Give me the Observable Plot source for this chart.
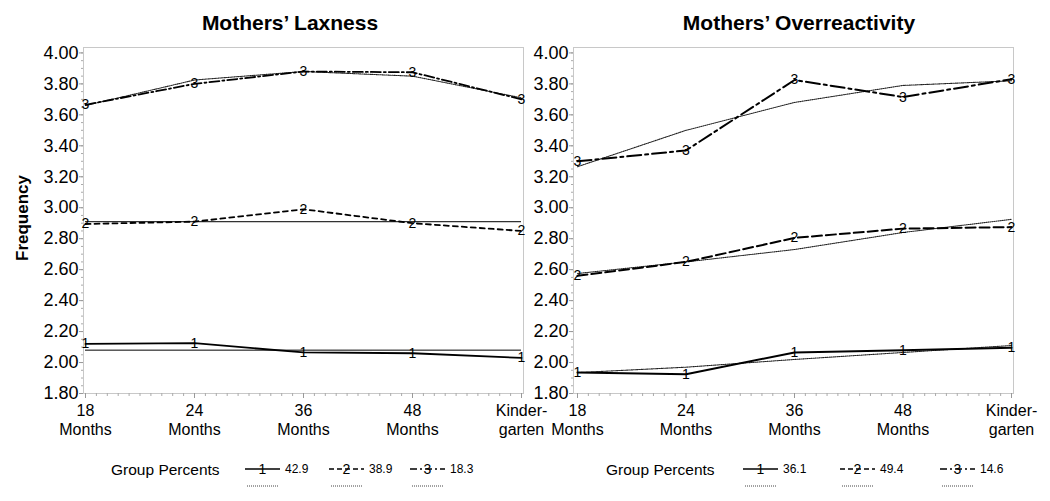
<!DOCTYPE html>
<html><head><meta charset="utf-8">
<script src="https://cdn.jsdelivr.net/npm/d3@7"></script>
<script src="https://cdn.jsdelivr.net/npm/@observablehq/plot@0.6"></script>
<style>
html,body{margin:0;background:#fff;overflow:hidden;}
#wrap{position:relative;width:1050px;height:501px;font-family:"Liberation Sans",Arial,sans-serif;}
#wrap svg{position:absolute;top:0;overflow:visible;background:transparent;max-width:none;}
</style></head><body><div id="wrap"></div>
<script>
// ---- data ----
const waves = ["18\nMonths", "24\nMonths", "36\nMonths", "48\nMonths", "Kinder-\ngarten"];
const groups = ["1", "2", "3"];
const yTicks = [1.8, 2.0, 2.2, 2.4, 2.6, 2.8, 3.0, 3.2, 3.4, 3.6, 3.8, 4.0];

// Mothers' Laxness (observed group means and fitted trajectories)
const laxG1 = [2.12, 2.125, 2.065, 2.06, 2.03];
const laxG2 = [2.895, 2.91, 2.99, 2.90, 2.85];
const laxG3 = [3.665, 3.80, 3.88, 3.875, 3.70];
const laxFit1 = [2.08, 2.08, 2.08, 2.08, 2.08];
const laxFit2 = [2.91, 2.91, 2.91, 2.91, 2.91];
const laxFit3 = [3.66, 3.825, 3.88, 3.85, 3.71];
const laxPercents = ["42.9", "38.9", "18.3"];

// Mothers' Overreactivity
const ovrG1 = [1.935, 1.925, 2.065, 2.08, 2.095];
const ovrG2 = [2.56, 2.65, 2.805, 2.865, 2.875];
const ovrG3 = [3.30, 3.37, 3.825, 3.715, 3.83];
const ovrFit1 = [1.935, 1.97, 2.02, 2.065, 2.11];
const ovrFit2 = [2.575, 2.65, 2.73, 2.84, 2.925];
const ovrFit3 = [3.265, 3.50, 3.68, 3.79, 3.82];
const ovrPercents = ["36.1", "49.4", "14.6"];

// ---- helpers ----
function toRows(series) {
  const rows = [];
  series.forEach((vals, gi) => vals.forEach((v, i) => rows.push({wave: i, value: v, group: groups[gi]})));
  return rows;
}
const xMinor = d3.range(0, 40).map(d => d / 10).filter(d => d % 1 !== 0);
const yMinor = d3.range(36, 81).map(d => d / 20);

function panel({obs, fit, width, marginLeft, marginRight, insetLeft, insetRight, dash2, dash3, lw}) {
  const rows = toRows(obs);
  const fitRows = toRows(fit);
  const styles = {"1": null, "2": dash2, "3": dash3};
  const lineMarks = groups.map(g => Plot.line(rows.filter(r => r.group === g), {
    x: "wave", y: "value", stroke: "black", strokeWidth: lw, strokeDasharray: styles[g]
  }));
  return Plot.plot({
    width, height: 445, marginTop: 47, marginBottom: 52, marginLeft, marginRight,
    style: {background: "transparent", overflow: "visible", fontFamily: "Liberation Sans, Arial, sans-serif"},
    x: {type: "linear", domain: [0, 4], insetLeft, insetRight, axis: null},
    y: {domain: [1.8, 4.035], axis: null},
    marks: [
      Plot.frame({stroke: "#c8c8c8"}),
      Plot.axisY({ticks: yMinor, tickSize: 2, tickFormat: () => "", stroke: "#aaa", label: null}),
      Plot.axisY({ticks: yTicks, tickSize: 4, tickPadding: 1, tickFormat: d => d.toFixed(2), fontSize: 18, stroke: "#999", fill: "black", label: null}),
      Plot.axisX({ticks: xMinor, tickSize: 3, tickFormat: () => "", stroke: "#aaa", label: null}),
      Plot.axisX({ticks: [0, 1, 2, 3, 4], tickSize: 5, tickPadding: 4, tickFormat: i => waves[i], fontSize: 16, lineHeight: 1.2, stroke: "#999", fill: "black", label: null}),
      Plot.line(fitRows, {x: "wave", y: "value", z: "group", stroke: "#222", strokeWidth: 1.1, strokeDasharray: "1,1"}),
      ...lineMarks,
      Plot.text(rows, {x: "wave", y: "value", text: "group", fontSize: 14, fill: "black"})
    ]
  });
}

const wrap = document.getElementById("wrap");
const left = panel({obs: [laxG1, laxG2, laxG3], fit: [laxFit1, laxFit2, laxFit3], width: 525,
  marginLeft: 83, marginRight: 2, insetLeft: 2, insetRight: 2, dash2: "5,4", dash3: "10,3,2,3", lw: 1.8});
left.style.left = "0px";
wrap.appendChild(left);
const right = panel({obs: [ovrG1, ovrG2, ovrG3], fit: [ovrFit1, ovrFit2, ovrFit3], width: 525,
  marginLeft: 48, marginRight: 37, insetLeft: 4, insetRight: 2, dash2: "10,4", dash3: "14,4,3,4", lw: 2});
right.style.left = "525px";
wrap.appendChild(right);

// ---- overlay: titles, y label, legends ----
const ov = d3.select(wrap).append("svg").attr("width", 1050).attr("height", 501)
  .style("left", "0px").style("pointer-events", "none")
  .attr("font-family", "Liberation Sans, Arial, sans-serif");
ov.append("text").attr("x", 290).attr("y", 30).attr("text-anchor", "middle")
  .attr("font-size", 21).attr("font-weight", "bold").text("Mothers’ Laxness");
ov.append("text").attr("x", 799).attr("y", 30).attr("text-anchor", "middle")
  .attr("font-size", 21).attr("font-weight", "bold").text("Mothers’ Overreactivity");
ov.append("text").attr("transform", "translate(28,218) rotate(-90)").attr("text-anchor", "middle")
  .attr("font-size", 17).attr("font-weight", "bold").text("Frequency");

const legDash = [null, "5,3", "7,3,2,3"];
function legend(textX, items, percents) {
  const yRow = 469, yDot = 486;
  ov.append("text").attr("x", textX).attr("y", yRow + 5.5).attr("font-size", 15.5).text("Group Percents");
  items.forEach((x0, i) => {
    ov.append("line").attr("x1", x0).attr("x2", x0 + 35).attr("y1", yRow).attr("y2", yRow)
      .attr("stroke", "black").attr("stroke-width", 1.6).attr("stroke-dasharray", legDash[i]);
    ov.append("text").attr("x", x0 + 17.5).attr("y", yRow + 5).attr("text-anchor", "middle")
      .attr("font-size", 14).text(groups[i]);
    ov.append("text").attr("x", x0 + 40).attr("y", yRow + 4).attr("font-size", 12).text(percents[i]);
    ov.append("line").attr("x1", x0 + 2).attr("x2", x0 + 34).attr("y1", yDot).attr("y2", yDot)
      .attr("stroke", "#444").attr("stroke-width", 1).attr("stroke-dasharray", "1,1");
  });
}
legend(111, [245, 329, 410], laxPercents);
legend(606, [743, 840, 940], ovrPercents);
</script></body></html>
